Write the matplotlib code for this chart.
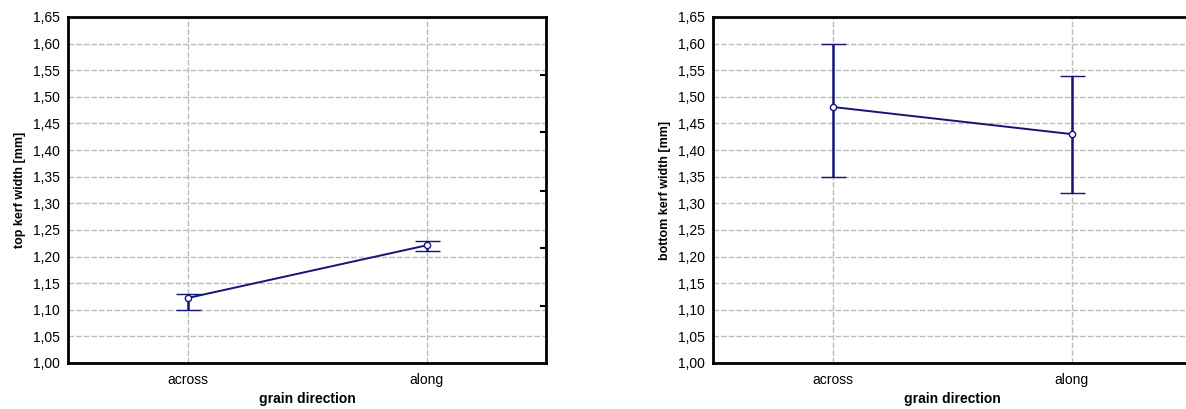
import matplotlib
matplotlib.use("Agg")
import matplotlib.pyplot as plt
import matplotlib.ticker as mtick

plt.rcParams['font.family'] = ['Liberation Sans', 'DejaVu Sans']

# Data
categories = ["across", "along"]
top_mean = [1.122, 1.221]
top_low = [1.10, 1.21]
top_high = [1.13, 1.23]
bottom_mean = [1.481, 1.430]
bottom_low = [1.35, 1.32]
bottom_high = [1.60, 1.54]
y_ticks = [1.00, 1.05, 1.10, 1.15, 1.20, 1.25, 1.30, 1.35, 1.40, 1.45, 1.50, 1.55, 1.60, 1.65]
right_marks = [1.107, 1.216, 1.323, 1.434, 1.541]

navy = '#14147a'

fig = plt.figure(figsize=(11.86, 4.09), dpi=100)
W, H = 1186, 409
ax1 = fig.add_axes([68 / W, 1 - 363 / H, 478 / W, 346 / H])
ax2 = fig.add_axes([713 / W, 1 - 363 / H, 478 / W, 346 / H])


def panel(ax, mean, low, high, ylabel, right_ticks=True):
    x = list(range(len(categories)))
    yerr = [[m - l for m, l in zip(mean, low)], [h - m for m, h in zip(mean, high)]]
    ax.errorbar(x, mean, yerr=yerr, color=navy, lw=1.4, elinewidth=1.8,
                capsize=9, capthick=1.8, marker='o', ms=4.5,
                mfc='white', mec=navy, mew=1.0, zorder=3)
    ax.set_xlim(-0.5, 1.5)
    ax.set_ylim(1.00, 1.65)
    ax.set_xticks(x)
    ax.set_xticklabels(categories, fontsize=10)
    ax.set_yticks(y_ticks)
    ax.yaxis.set_major_formatter(mtick.FuncFormatter(lambda v, p: f"{v:.2f}".replace('.', ',')))
    ax.tick_params(axis='y', labelsize=10, length=0, pad=6)
    ax.tick_params(axis='x', length=0, pad=7)
    ax.grid(True, color='#bcbcbc', linestyle=(0, (4, 1.5)), lw=1.0, zorder=0)
    for s in ax.spines.values():
        s.set_linewidth(2.0)
        s.set_color('black')
    ax.set_xlabel("grain direction", fontsize=10, fontweight='bold', labelpad=4)
    ax.set_ylabel(ylabel, fontsize=9, fontweight='bold', labelpad=5)
    if right_ticks:
        for m in right_marks:
            ax.plot([1.48, 1.5], [m, m], color='black', lw=1.5, zorder=4, clip_on=False)


panel(ax1, top_mean, top_low, top_high, "top kerf width [mm]")
panel(ax2, bottom_mean, bottom_low, bottom_high, "bottom kerf width [mm]", right_ticks=False)

fig.savefig("out.png", dpi=100)
